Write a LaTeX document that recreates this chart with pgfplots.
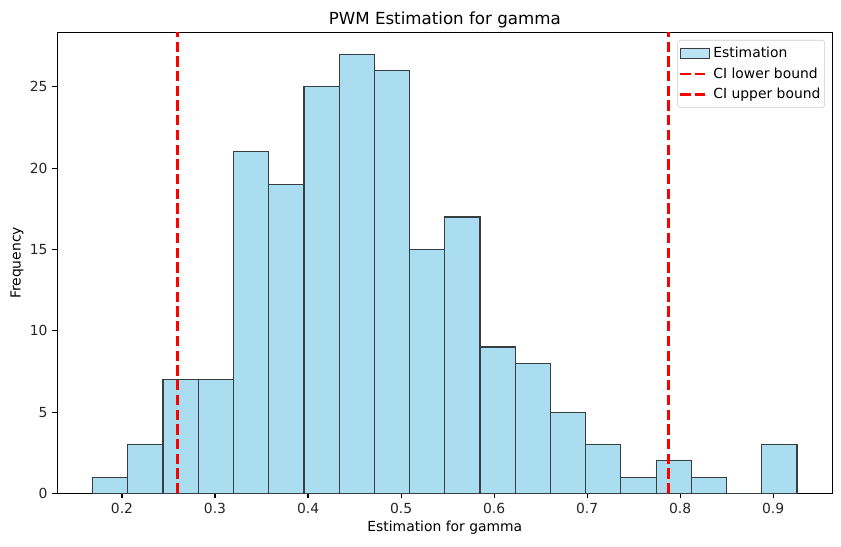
\documentclass[border=0pt]{standalone}
\usepackage{pgfplots}
\pgfplotsset{compat=1.18}
\usepackage{fontspec}
\setmainfont{DejaVu Sans}
\definecolor{barfill}{RGB}{171,221,241}
\definecolor{baredge}{RGB}{55,62,66}
\definecolor{legedge}{RGB}{204,204,204}

% bin edges and counts (last edge repeated for ybar interval)
\pgfplotstableread{
edge   count
0.1684 1
0.2063 3
0.2441 7
0.2820 7
0.3198 21
0.3577 19
0.3956 25
0.4334 27
0.4713 26
0.5091 15
0.5470 17
0.5849 9
0.6227 8
0.6606 5
0.6984 3
0.7363 1
0.7742 2
0.8120 1
0.8499 0
0.8877 3
0.9256 3
}\histdata

\begin{document}
\begin{tikzpicture}
\begin{axis}[
  at={(0,0)}, anchor=south west,
  scale only axis,
  width=558pt, height=332pt,
  xmin=0.1305, xmax=0.9635,
  ymin=0, ymax=28.35,
  xtick={0.2,0.3,0.4,0.5,0.6,0.7,0.8,0.9},
  ytick={0,5,10,15,20,25},
  xtick pos=bottom, ytick pos=left,
  xticklabel style={/pgf/number format/fixed, /pgf/number format/precision=1},
  /pgf/number format/assume math mode=true,
  tick align=outside,
  major tick length=3.5pt,
  every tick/.style={black, line width=0.8pt},
  axis line style={line width=0.8pt},
  tick label style={font=\fontsize{10}{12}\selectfont, text=black!85},
  label style={font=\fontsize{10}{12}\selectfont},
  every axis title shift=0pt,
  title style={font=\fontsize{12}{14}\selectfont, at={(axis description cs:0.5,1)}, anchor=base, yshift=6pt},
  title={PWM Estimation for gamma},
  xlabel={Estimation for gamma},
  ylabel={Frequency},
  xlabel style={at={(axis description cs:0.5,-0.0753)}, anchor=center},
  ylabel style={at={(axis description cs:-0.052,0.5)}, anchor=center},
  legend style={
    at={(1,1)}, anchor=north east, xshift=-5.3pt, yshift=-5.5pt,
    draw=legedge, rounded corners=2pt, fill=white, fill opacity=0.8, text opacity=1,
    font=\fontsize{10}{12}\selectfont, row sep=1.6pt, inner xsep=1pt, inner ysep=3pt,
    /tikz/every even column/.append style={column sep=5pt},
  },
  legend cell align=left,
  cilegend/.style={legend image code/.code={\draw[##1, sharp corners] (0cm,0cm) -- (0.73cm,0cm);}},
]
\addplot[ybar interval, fill=barfill, draw=baredge, line width=0.85pt,
  legend image code/.code={\draw[##1, sharp corners] (0cm,-0.125cm) rectangle (0.73cm,0.125cm);}]
  table[x=edge, y=count] {\histdata};
\addlegendentry{Estimation}
\addplot[red, line width=2pt, dash pattern=on 7.4pt off 3.2pt, cilegend]
  coordinates {(0.2594,0) (0.2594,28.35)};
\addlegendentry{CI lower bound}
\addplot[red, line width=2pt, dash pattern=on 7.4pt off 3.2pt, cilegend]
  coordinates {(0.7874,0) (0.7874,28.35)};
\addlegendentry{CI upper bound}
\end{axis}
\pgfresetboundingbox
\path (-41.3pt,-38.2pt) rectangle (564.3pt,355.3pt);
\end{tikzpicture}
\end{document}
